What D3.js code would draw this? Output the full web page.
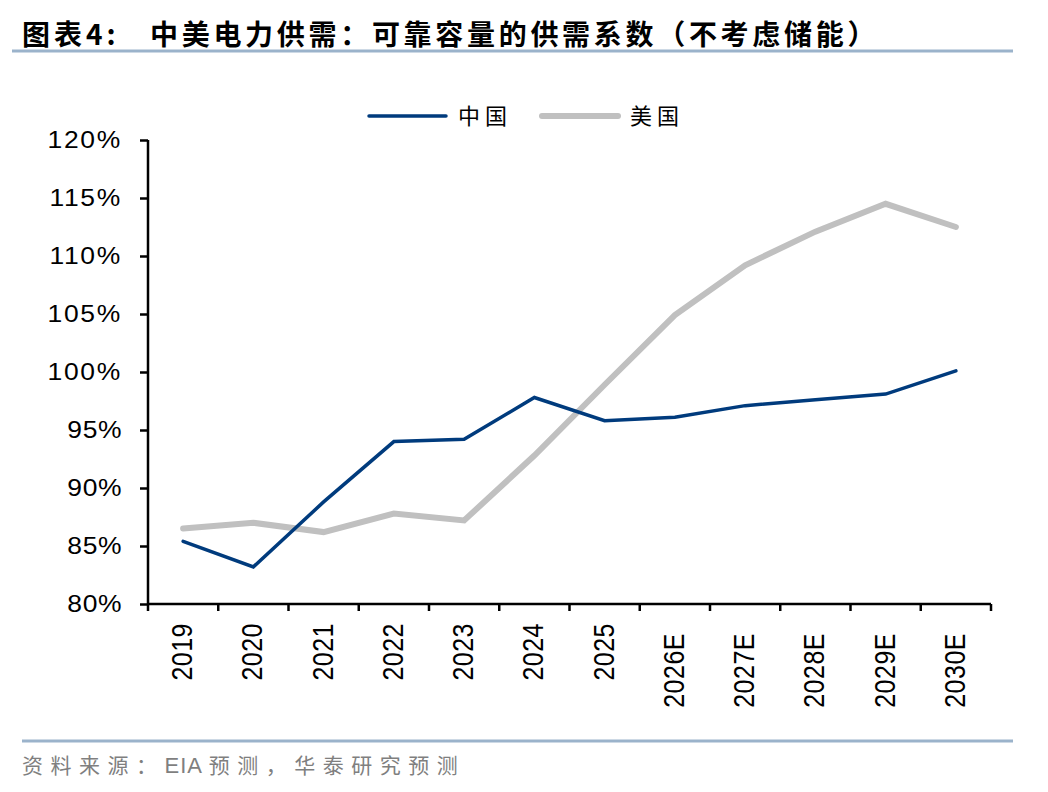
<!DOCTYPE html>
<html><head><meta charset="utf-8">
<script src="https://cdn.jsdelivr.net/npm/d3@7/dist/d3.min.js"></script>
<style>body{margin:0;background:#fff}svg{display:block}</style>
</head><body>
<svg id="c" width="1048" height="792"></svg>
<script>
const categories = ["2019","2020","2021","2022","2023","2024","2025","2026E","2027E","2028E","2029E","2030E"];
const china = [85.4, 83.2, 88.8, 94.0, 94.2, 97.8, 95.8, 96.1, 97.1, 97.6, 98.1, 100.1];
const usa   = [86.5, 87.0, 86.2, 87.8, 87.2, 92.8, 98.9, 104.9, 109.2, 112.1, 114.5, 112.5];
const yTicks = [80, 85, 90, 95, 100, 105, 110, 115, 120];
const seriesNames = ["中国", "美国"];
const colors = ["#003B7D", "#C0C0C0"];

const svg = d3.select("#c");
const L = 148, R = 991, T = 140, B = 604;
const x = d3.scaleBand().domain(categories).range([L, R]);
const y = d3.scaleLinear().domain([80, 120]).range([B, T]);

// title
svg.append("text").attr("x", 22).attr("y", 45).text("图表4:")
  .attr("font-family", "Noto Sans CJK SC").attr("font-weight", "bold").attr("font-size", 28)
  .attr("letter-spacing", 4).attr("fill", "#000");
svg.append("text").attr("x", 150).attr("y", 45).text("中美电力供需：可靠容量的供需系数（不考虑储能）")
  .attr("font-family", "Noto Sans CJK SC").attr("font-weight", "bold").attr("font-size", 28)
  .attr("letter-spacing", 3.7).attr("fill", "#000");
svg.append("line").attr("x1", 12).attr("x2", 1013).attr("y1", 51).attr("y2", 51)
  .attr("stroke", "#9BB3CB").attr("stroke-width", 3);
svg.append("line").attr("x1", 22).attr("x2", 1013).attr("y1", 741).attr("y2", 741)
  .attr("stroke", "#9BB3CB").attr("stroke-width", 3);
const src = svg.append("text").attr("x", 22).attr("y", 773)
  .attr("font-family", "Noto Sans CJK SC").attr("font-size", 21).attr("fill", "#7F7F7F");
src.append("tspan").attr("letter-spacing", 7.5).text("资料来源：");
src.append("tspan").attr("font-family", "Liberation Sans, Arial").attr("font-size", 22).attr("letter-spacing", 1).text("EIA ");
src.append("tspan").attr("letter-spacing", 7.5).text("预测，华泰研究预测");

// y axis
const ya = svg.append("g").attr("transform", `translate(${L},0)`)
  .call(d3.axisLeft(y).tickValues(yTicks).tickSize(8).tickFormat(() => ""));
ya.selectAll("path,line").attr("stroke", "#000").attr("stroke-width", 2.5);
ya.select("path").attr("d", `M0,${T}V${B}`);
svg.append("g").selectAll("text").data(yTicks).join("text")
  .attr("transform", d => `translate(122,${y(d) + 8}) scale(1.15,1)`)
  .attr("text-anchor", "end").attr("font-family", "Liberation Sans, Arial").attr("font-size", 23)
  .attr("letter-spacing", d => d >= 100 ? 1.5 : 0.5)
  .text(d => d + "%");

// x axis
const xa = svg.append("g").attr("transform", `translate(0,${B})`)
  .call(d3.axisBottom(x).tickSize(0).tickFormat(() => ""));
xa.selectAll("path").attr("stroke", "#000").attr("stroke-width", 2.5).attr("d", `M${L},0H${R}`);
svg.append("g").selectAll("line").data(d3.range(categories.length + 1)).join("line")
  .attr("x1", i => L + i * x.step()).attr("x2", i => L + i * x.step())
  .attr("y1", B).attr("y2", B + 7).attr("stroke", "#000").attr("stroke-width", 2.5);
svg.append("g").selectAll("text").data(categories).join("text")
  .attr("transform", d => `translate(${x(d) + x.bandwidth() / 2 + 9},${d.length > 4 ? 633 : 623}) scale(1.15,1) rotate(-90)`)
  .attr("text-anchor", "end").attr("font-family", "Liberation Sans, Arial").attr("font-size", 25)
  .attr("letter-spacing", 0.5)
  .text(d => d);

// lines
const line = d3.line().x((d, i) => x(categories[i]) + x.bandwidth() / 2).y(d => y(d));
svg.append("path").datum(usa).attr("d", line).attr("fill", "none")
  .attr("stroke", colors[1]).attr("stroke-width", 6).attr("stroke-linecap", "round").attr("stroke-linejoin", "miter");
svg.append("path").datum(china).attr("d", line).attr("fill", "none")
  .attr("stroke", colors[0]).attr("stroke-width", 3.5).attr("stroke-linecap", "round").attr("stroke-linejoin", "miter");

// legend
const lg = [{x1: 369, x2: 446, tx: 458}, {x1: 542, x2: 618, tx: 630}];
seriesNames.forEach((n, i) => {
  svg.append("line").attr("x1", lg[i].x1).attr("x2", lg[i].x2).attr("y1", 116).attr("y2", 116)
    .attr("stroke", colors[i]).attr("stroke-width", i === 0 ? 3.5 : 6).attr("stroke-linecap", "round");
  svg.append("text").attr("x", lg[i].tx).attr("y", 124).text(n)
    .attr("font-family", "Noto Sans CJK SC").attr("font-size", 22).attr("letter-spacing", 5).attr("fill", "#000");
});
</script>
</body></html>
